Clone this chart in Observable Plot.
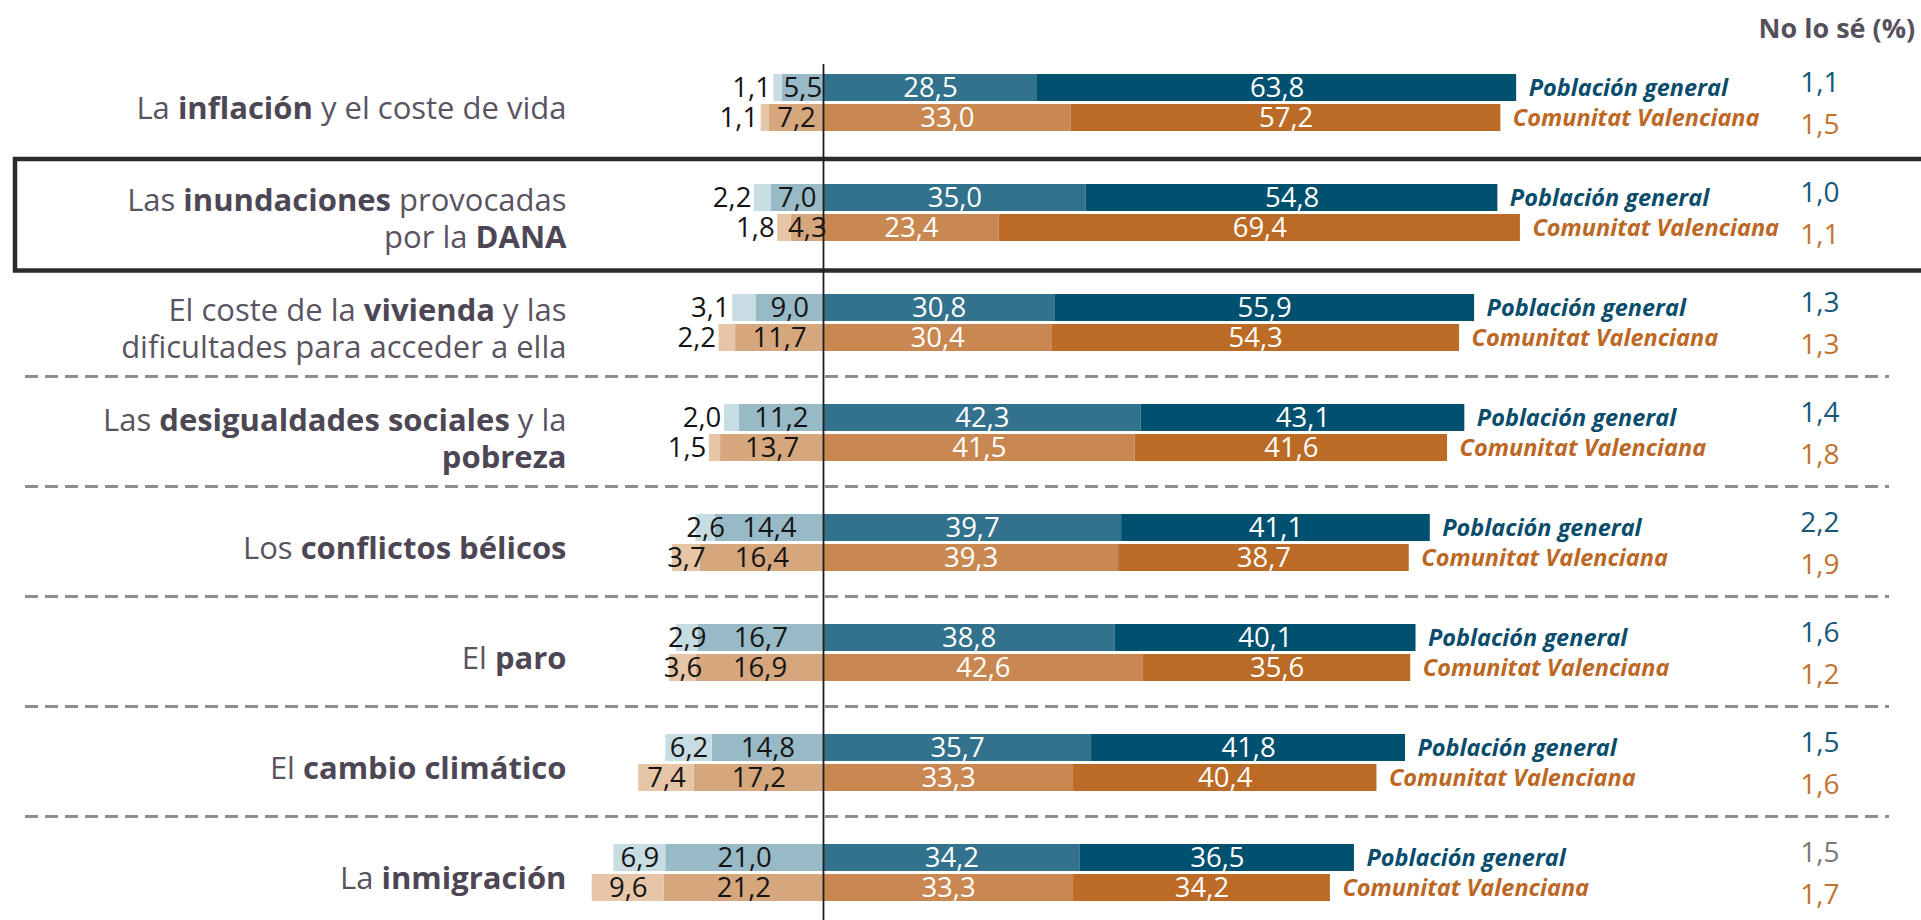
<!DOCTYPE html>
<html><head><meta charset="utf-8">
<script src="https://cdn.jsdelivr.net/npm/d3@7"></script>
<script src="https://cdn.jsdelivr.net/npm/@observablehq/plot@0.6"></script>
<style>html,body{margin:0;padding:0;background:#fff;overflow:hidden}</style>
</head><body><div id="chart"></div>
<script>
// ---- data ----
const topics = [
  "La **inflación** y el coste de vida",
  "Las **inundaciones** provocadas\npor la **DANA**",
  "El coste de la **vivienda** y las\ndificultades para acceder a ella",
  "Las **desigualdades sociales** y la\n**pobreza**",
  "Los **conflictos bélicos**",
  "El **paro**",
  "El **cambio climático**",
  "La **inmigración**"
];
const seriesNames = ["Población general", "Comunitat Valenciana"];
const titleText = "No lo sé (%)";

const pgNada     = [1.1, 2.2, 3.1, 2.0, 2.6, 2.9, 6.2, 6.9];
const pgPoco     = [5.5, 7.0, 9.0, 11.2, 14.4, 16.7, 14.8, 21.0];
const pgBastante = [28.5, 35.0, 30.8, 42.3, 39.7, 38.8, 35.7, 34.2];
const pgMucho    = [63.8, 54.8, 55.9, 43.1, 41.1, 40.1, 41.8, 36.5];
const pgNoSe     = [1.1, 1.0, 1.3, 1.4, 2.2, 1.6, 1.5, 1.5];

const cvNada     = [1.1, 1.8, 2.2, 1.5, 3.7, 3.6, 7.4, 9.6];
const cvPoco     = [7.2, 4.3, 11.7, 13.7, 16.4, 16.9, 17.2, 21.2];
const cvBastante = [33.0, 23.4, 30.4, 41.5, 39.3, 42.6, 33.3, 33.3];
const cvMucho    = [57.2, 69.4, 54.3, 41.6, 38.7, 35.6, 40.4, 34.2];
const cvNoSe     = [1.5, 1.1, 1.3, 1.8, 1.9, 1.2, 1.6, 1.7];

// ---- styles ----
const PG = seriesNames[0], CV = seriesNames[1];
const colors = {
  [PG]: {nada: "#c8dce3", poco: "#98b9c6", bastante: "#33728c", mucho: "#00506f", label: "#0a4c6b", nose: "#15587a"},
  [CV]: {nada: "#e6c6a7", poco: "#d6a67c", bastante: "#c98851", mucho: "#bb6b26", label: "#bd6724", nose: "#c27332"}
};
const textGray = "#5a5462";
const boldGray = "#4d4755";

const fmt = v => v.toFixed(1).replace(".", ",");
const values = {
  [PG]: {nada: pgNada, poco: pgPoco, bastante: pgBastante, mucho: pgMucho, nose: pgNoSe},
  [CV]: {nada: cvNada, poco: cvPoco, bastante: cvBastante, mucho: cvMucho, nose: cvNoSe}
};
const catOrder = ["poco", "nada", "bastante", "mucho"];
const rows = [], summary = [];
topics.forEach((t, i) => seriesNames.forEach(s => {
  const v = values[s];
  catOrder.forEach(c => rows.push({
    topic: t, series: s, cat: c, value: v[c][i],
    signed: (c === "poco" || c === "nada") ? -v[c][i] : v[c][i],
    poco: v.poco[i]
  }));
  summary.push({topic: t, series: s, idx: i, nada: v.nada[i], poco: v.poco[i],
    pos: v.bastante[i] + v.mucho[i], neg: v.poco[i] + v.nada[i], nose: v.nose[i]});
}));

const inside = d => d.poco >= 14;

const W = 1921, H = 920;
const chart = Plot.plot({
  width: W, height: H,
  marginLeft: 15, marginRight: 0, marginTop: 47, marginBottom: -9.4,
  style: {fontFamily: "'Open Sans', sans-serif", background: "#fff"},
  x: {domain: [-107.59, 146.21], axis: null},
  y: {domain: seriesNames, paddingInner: 0.0984, paddingOuter: 0.857, axis: null},
  fy: {domain: topics, padding: 0, axis: null},
  color: {type: "identity"},
  marks: [
    // highlight box around DANA
    Plot.rect([topics[1]], {fy: d => d, fill: "none", stroke: "#2b2a30", strokeWidth: 4.5,
      insetTop: 1, insetBottom: -2.5, insetRight: -20}),
    // dashed separators
    Plot.ruleY(topics.slice(3), {fy: d => d, y: () => PG, dy: -41.5, stroke: "#8e8e8e", strokeWidth: 3,
      strokeDasharray: "13,7", insetLeft: 10, insetRight: 32}),
    // bars
    Plot.barX(rows, Plot.stackX({x: "signed", y: "series", fy: "topic", fill: d => colors[d.series][d.cat]})),
    // zero line
    Plot.ruleX(topics.slice(0, 1), {x: () => 0, fy: d => d, stroke: "#1e1e24", strokeWidth: 1.8, insetTop: 16}),
    Plot.ruleX(topics.slice(1), {x: () => 0, fy: d => d, stroke: "#1e1e24", strokeWidth: 1.8}),
    // segment labels
    Plot.text(rows, Plot.stackX({x: "signed", y: "series", fy: "topic",
      text: d => (d.cat === "nada" && !inside(d)) ? "" : fmt(d.value),
      fill: d => (d.cat === "bastante" || d.cat === "mucho") ? "#ffffff" : "#141414",
      fontSize: 27.5})),
    // outside "nada" labels
    Plot.text(summary.filter(d => !inside(d)), {x: d => -d.neg, y: "series", fy: "topic",
      text: d => fmt(d.nada), textAnchor: "end", dx: -3, fill: "#141414", fontSize: 27.5}),
    // series labels
    Plot.text(summary, {x: "pos", y: "series", fy: "topic", text: "series", dx: 12, textAnchor: "start",
      fontWeight: 700, fontStyle: "italic", fontSize: 23.5, fill: d => colors[d.series].label}),
    // No lo sé column
    Plot.text(summary.filter(d => d.series === PG), {y: "series", fy: "topic", frameAnchor: "right", dx: -82, dy: -5,
      text: d => fmt(d.nose), fontSize: 28,
      fill: d => d.idx === topics.length - 1 ? "#7a7a7a" : colors[PG].nose}),
    Plot.text(summary.filter(d => d.series === CV), {y: "series", fy: "topic", frameAnchor: "right", dx: -82, dy: 7,
      text: d => fmt(d.nose), fontSize: 28, fill: colors[CV].nose}),
    // category labels
    Plot.text(topics, {fy: d => d, text: d => d, frameAnchor: "left", dx: 551, dy: 4, textAnchor: "end",
      lineHeight: 1.2, fontSize: 31, fill: textGray}),
    // column title
    Plot.text([titleText], {fy: () => topics[0], text: d => d, frameAnchor: "top-right", dx: -163, dy: -11,
      textAnchor: "start", lineAnchor: "bottom", fontWeight: 700, fontSize: 27, fill: "#56505d"})
  ]
});

// render **bold** segments as bold tspans
function boldify(node) {
  const str = node.textContent;
  if (!str.includes("**")) return;
  while (node.firstChild) node.removeChild(node.firstChild);
  str.split("**").forEach((part, k) => {
    if (!part) return;
    if (k % 2) {
      const t = document.createElementNS("http://www.w3.org/2000/svg", "tspan");
      t.setAttribute("font-weight", "700");
      t.setAttribute("fill", boldGray);
      t.textContent = part;
      node.appendChild(t);
    } else node.appendChild(document.createTextNode(part));
  });
}
chart.querySelectorAll("text").forEach(t => {
  const spans = t.querySelectorAll("tspan");
  if (spans.length) spans.forEach(boldify); else boldify(t);
});
document.getElementById("chart").appendChild(chart);
</script>
</body></html>
